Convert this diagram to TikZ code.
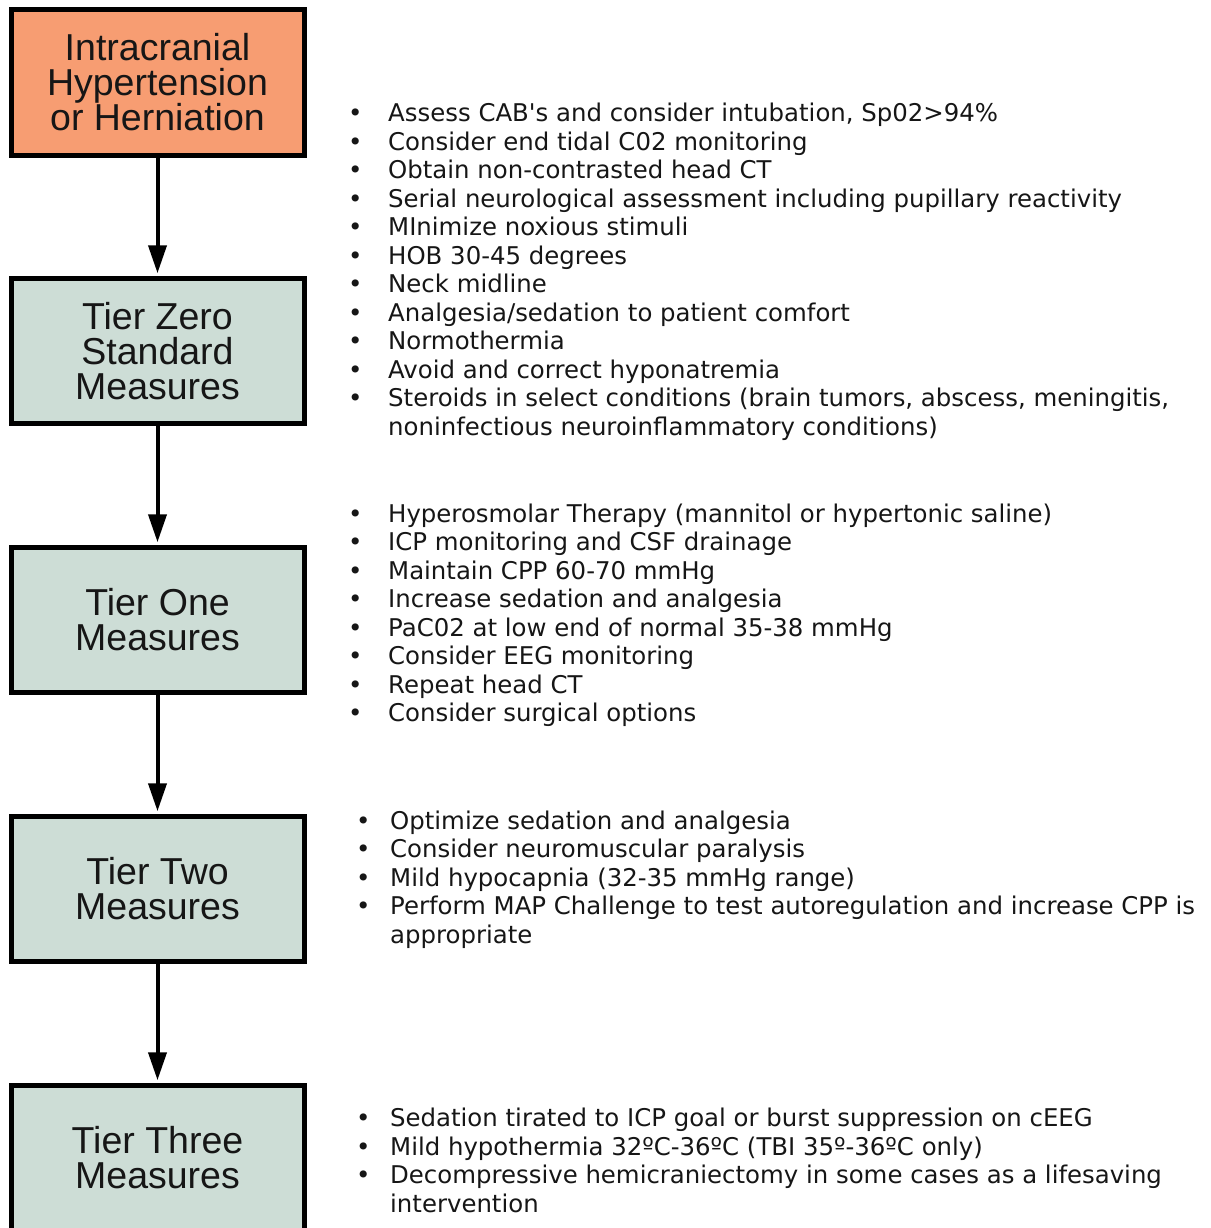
\documentclass[tikz,border=0pt]{standalone}
\usepackage{fontspec}
\setmainfont{DejaVu Sans}[Ligatures=TeXOff]
\newfontfamily\boxfont{Liberation Sans}
\usetikzlibrary{arrows.meta}
\definecolor{orangebox}{RGB}{247,157,114}
\definecolor{tierbox}{RGB}{205,221,214}
\definecolor{ink}{RGB}{22,22,22}
\newcommand\bitemA{\makebox[33pt][l]{\makebox[0pt]{•}}}
\newcommand\bitemB{\makebox[27pt][l]{\makebox[0pt]{•}}}
\tikzset{
  stagebox/.style={draw=black, line width=5pt, minimum width=293pt, minimum height=145.5pt,
    inner sep=0pt, align=center, font=\boxfont\fontsize{37.5}{35}\selectfont, text=ink},
  flowarrow/.style={line width=4pt, -{Triangle[width=18pt,length=28pt]}, shorten >=2.5pt},
  bulletlist/.style={anchor=base west, inner sep=0pt, font=\fontsize{24.4}{28.5}\selectfont, text=ink},
}
\begin{document}
\begin{tikzpicture}[x=1pt,y=-1pt]
\useasboundingbox (0,0) rectangle (1210,1228);
\clip (0,0) rectangle (1210,1228);
\fill[white] (0,0) rectangle (1210,1228);

\node[stagebox, fill=orangebox] (b1) at (157.5,82.25) {Intracranial\\Hypertension\\or Herniation};
\node[stagebox, fill=tierbox] (b2) at (157.5,351) {Tier Zero\\Standard\\Measures};
\node[stagebox, fill=tierbox] (b3) at (157.5,620) {Tier One\\Measures};
\node[stagebox, fill=tierbox] (b4) at (157.5,889) {Tier Two\\Measures};
\node[stagebox, fill=tierbox] (b5) at (157.5,1158) {Tier Three\\Measures};

\draw[flowarrow] (b1.south) -- (b2.north);
\draw[flowarrow] (b2.south) -- (b3.north);
\draw[flowarrow] (b3.south) -- (b4.north);
\draw[flowarrow] (b4.south) -- (b5.north);

\node[bulletlist] (l1) at (355,121.5) {\begin{tabular}[t]{@{}l@{}}
\bitemA Assess CAB's and consider intubation, Sp02>94\%\\
\bitemA Consider end tidal C02 monitoring\\
\bitemA Obtain non-contrasted head CT\\
\bitemA Serial neurological assessment including pupillary reactivity\\
\bitemA MInimize noxious stimuli\\
\bitemA HOB 30-45 degrees\\
\bitemA Neck midline\\
\bitemA Analgesia/sedation to patient comfort\\
\bitemA Normothermia\\
\bitemA Avoid and correct hyponatremia\\
\bitemA Steroids in select conditions (brain tumors, abscess, meningitis,\\
\hspace*{33pt}noninfectious neuroinflammatory conditions)
\end{tabular}};

\node[bulletlist] (l2) at (355,522) {\begin{tabular}[t]{@{}l@{}}
\bitemA Hyperosmolar Therapy (mannitol or hypertonic saline)\\
\bitemA ICP monitoring and CSF drainage\\
\bitemA Maintain CPP 60-70 mmHg\\
\bitemA Increase sedation and analgesia\\
\bitemA PaC02 at low end of normal 35-38 mmHg\\
\bitemA Consider EEG monitoring\\
\bitemA Repeat head CT\\
\bitemA Consider surgical options
\end{tabular}};

\node[bulletlist] (l3) at (363,829) {\begin{tabular}[t]{@{}l@{}}
\bitemB Optimize sedation and analgesia\\
\bitemB Consider neuromuscular paralysis\\
\bitemB Mild hypocapnia (32-35 mmHg range)\\
\bitemB Perform MAP Challenge to test autoregulation and increase CPP is\\
\hspace*{27pt}appropriate
\end{tabular}};

\node[bulletlist] (l4) at (363,1126.5) {\begin{tabular}[t]{@{}l@{}}
\bitemB Sedation tirated to ICP goal or burst suppression on cEEG\\
\bitemB Mild hypothermia 32ºC-36ºC (TBI 35º-36ºC only)\\
\bitemB Decompressive hemicraniectomy in some cases as a lifesaving\\
\hspace*{27pt}intervention
\end{tabular}};
\end{tikzpicture}
\end{document}
